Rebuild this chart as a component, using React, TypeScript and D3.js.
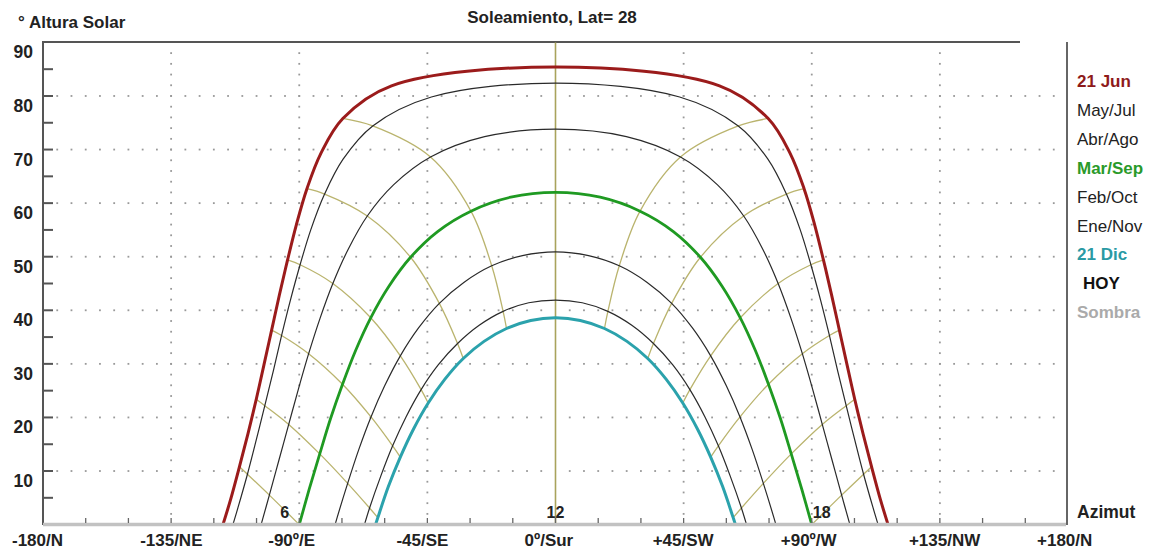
import * as d3 from "d3";

// Sun path, Lat 28. Afternoon half of each day, every 30 min from solar noon
// (azimuth from south, degrees; altitude, degrees). Morning is the mirror.
const junAz = [0, 57.6, 74.7, 82.4, 87.3, 91.0, 94.1, 97.0, 99.7, 102.4, 105.1, 108.0, 111.0, 114.1];
const junAlt = [85.4, 81.9, 75.8, 69.3, 62.7, 56.0, 49.4, 42.8, 36.3, 29.8, 23.4, 17.0, 10.8, 4.7];
const junSet = 116.8;

const mayAz = [0, 43.6, 64.2, 74.6, 81.1, 85.9, 89.7, 93.1, 96.2, 99.1, 102.1, 105.1, 108.2, 111.5];
const mayAlt = [82.4, 79.8, 74.4, 68.2, 61.7, 55.1, 48.5, 41.9, 35.3, 28.7, 22.2, 15.8, 9.4, 3.2];
const maySet = 113.3;

const abrAz = [0, 24.9, 43.9, 56.9, 66.1, 72.8, 78.2, 82.7, 86.7, 90.3, 93.7, 97.1, 100.5];
const abrAlt = [73.8, 72.4, 68.6, 63.4, 57.6, 51.4, 45.0, 38.5, 31.9, 25.3, 18.7, 12.1, 5.5];
const abrSet = 103.4;

const marAz = [0, 15.7, 29.7, 41.4, 50.9, 58.5, 64.9, 70.2, 74.8, 79.0, 82.8, 86.5, 90.0];
const marAlt = [62.0, 61.1, 58.5, 54.7, 49.9, 44.5, 38.6, 32.5, 26.2, 19.8, 13.2, 6.6, 0];
const marSet = 90;

const febAz = [0, 11.6, 22.4, 32.2, 40.8, 48.1, 54.5, 60.0, 64.8, 69.1, 73.0, 76.7];
const febAlt = [50.9, 50.2, 48.3, 45.2, 41.3, 36.7, 31.5, 25.9, 20.1, 14.0, 7.7, 1.3];
const febSet = 77.4;

const eneAz = [0, 9.4, 18.4, 26.8, 34.4, 41.2, 47.2, 52.5, 57.2, 61.4, 65.3];
const eneAlt = [41.9, 41.4, 39.8, 37.2, 33.8, 29.8, 25.2, 20.1, 14.7, 9.0, 3.1];
const eneSet = 67.1;

const dicAz = [0, 8.7, 17.2, 25.1, 32.4, 38.9, 44.7, 49.9, 54.5, 58.7, 62.4];
const dicAlt = [38.6, 38.1, 36.6, 34.2, 31.0, 27.1, 22.7, 17.8, 12.6, 7.1, 1.3];
const dicSet = 63.2;

const azTicks = [-180, -135, -90, -45, 0, 45, 90, 135, 180];
const azLabels = ["-180/N", "-135/NE", "-90º/E", "-45/SE", "0º/Sur", "+45/SW", "+90º/W", "+135/NW", "+180/N"];
const altTicks = [10, 20, 30, 40, 50, 60, 70, 80, 90];

const legendLabels = ["21 Jun", "May/Jul", "Abr/Ago", "Mar/Sep", "Feb/Oct", "Ene/Nov", "21 Dic", "HOY", "Sombra"];
const legendColors = ["#8e1a1a", "#222", "#222", "#2a9a2a", "#222", "#222", "#2a9aa4", "#111", "#aaa"];
const legendBold = [true, false, false, true, false, false, true, true, true];

type Pt = [number, number];

const days = [
  { az: junAz, alt: junAlt, set: junSet, color: "#9b1b1b", width: 3 },
  { az: mayAz, alt: mayAlt, set: maySet, color: "#2a2a2a", width: 1.2 },
  { az: abrAz, alt: abrAlt, set: abrSet, color: "#2a2a2a", width: 1.2 },
  { az: marAz, alt: marAlt, set: marSet, color: "#1f9a22", width: 2.8 },
  { az: febAz, alt: febAlt, set: febSet, color: "#2a2a2a", width: 1.2 },
  { az: eneAz, alt: eneAlt, set: eneSet, color: "#2a2a2a", width: 1.2 },
  { az: dicAz, alt: dicAlt, set: dicSet, color: "#2ba2ac", width: 3 },
];

const font = "'Liberation Sans', Arial, sans-serif";

export default function App() {
  const x = d3.scaleLinear().domain([-180, 180]).range([43, 1068]);
  const y = d3.scaleLinear().domain([0, 90]).range([524.6, 42.4]);
  const line = d3
    .line<Pt>()
    .x((d) => x(d[0]))
    .y((d) => y(d[1]))
    .curve(d3.curveCatmullRom.alpha(0.5));

  const fullDay = (d: (typeof days)[number]): Pt[] => {
    const pm: Pt[] = d.az.map((a, i) => [a, d.alt[i]] as Pt);
    if (pm[pm.length - 1][1] > 0) pm.push([d.set, 0]);
    const am: Pt[] = pm.slice(1).reverse().map(([a, h]) => [-a, h] as Pt);
    return [...am, ...pm];
  };

  // hour lines: same solar hour across the days (index 2k = k hours from noon)
  const hourLines: Pt[][] = [];
  for (let k = 1; k <= 6; k++) {
    const idx = 2 * k;
    const pts: Pt[] = days.filter((d) => idx < d.az.length).map((d) => [d.az[idx], d.alt[idx]] as Pt);
    if (pts.length > 1) {
      hourLines.push(pts);
      hourLines.push(pts.map(([a, h]) => [-a, h] as Pt));
    }
  }

  const hDots: Pt[] = [];
  d3.range(10, 90, 10).forEach((h) =>
    d3.range(-175, 180, 5).forEach((a) => {
      if (a !== 0) hDots.push([a, h]);
    })
  );
  const vDots: Pt[] = [];
  [-135, -90, -45, 45, 90, 135].forEach((a) =>
    d3.range(2, 90, 2).forEach((h) => vDots.push([a, h]))
  );

  return (
    <svg
      width={1152}
      height={552}
      style={{ position: "absolute", left: 0, top: 0, background: "#fff" }}
      fontFamily={font}
    >
      <rect width={1152} height={552} fill="#fff" />

      {/* dotted grid */}
      {hDots.map((d, i) => (
        <rect key={"h" + i} x={x(d[0]) - 0.9} y={y(d[1]) - 0.9} width={1.8} height={1.8} fill="#999" />
      ))}
      {vDots.map((d, i) => (
        <rect key={"v" + i} x={x(d[0]) - 0.9} y={y(d[1]) - 0.9} width={1.8} height={1.8} fill="#999" />
      ))}

      {/* frame */}
      <line x1={x(-180)} x2={x(-180)} y1={41} y2={525} stroke="#555" strokeWidth={2} />
      <line x1={x(-180)} x2={1020} y1={y(90) - 0.5} y2={y(90) - 0.5} stroke="#555" strokeWidth={2} />
      <line x1={x(180) - 1} x2={x(180) - 1} y1={42} y2={525} stroke="#666" strokeWidth={2} />

      {d3.range(5, 90, 5).map((h) => (
        <line key={"yt" + h} x1={x(-180)} x2={x(-180) + 10} y1={y(h)} y2={y(h)} stroke="#555" strokeWidth={2} />
      ))}
      {altTicks.map((h) => (
        <text key={"yl" + h} x={33} y={y(h) + 16} textAnchor="end" fontSize={17.5} fontWeight="bold" fill="#222">
          {h}
        </text>
      ))}

      {/* hour lines */}
      <line x1={x(0)} x2={x(0)} y1={y(0)} y2={y(90)} stroke="#a9a35c" strokeWidth={1.6} />
      {hourLines.map((pts, i) => (
        <path key={"hl" + i} d={line(pts) ?? ""} fill="none" stroke="#bab46e" strokeWidth={1.3} />
      ))}

      {/* day curves */}
      {days.map((d, i) => (
        <path key={"d" + i} d={line(fullDay(d)) ?? ""} fill="none" stroke={d.color} strokeWidth={d.width} />
      ))}

      {/* bottom axis */}
      <line x1={x(-180)} x2={x(180) - 2} y1={524.5} y2={524.5} stroke="#c2c2c2" strokeWidth={3.5} />
      {d3.range(-165, 180, 15).map((a) => (
        <line key={"xt" + a} x1={x(a)} x2={x(a)} y1={518} y2={523} stroke="#666" strokeWidth={1.3} />
      ))}
      {azTicks.map((a, i) => (
        <text key={"xl" + a} x={x(a) - 31} y={546} fontSize={17} fontWeight="bold" fill="#222">
          {azLabels[i]}
        </text>
      ))}

      {/* hour labels */}
      <text x={x(-90) - 10} y={518} textAnchor="end" fontSize={16} fontWeight="bold" fill="#222">6</text>
      <text x={x(0)} y={518} textAnchor="middle" fontSize={16} fontWeight="bold" fill="#222">12</text>
      <text x={x(90) + 1} y={518} fontSize={16} fontWeight="bold" fill="#222">18</text>

      {/* titles */}
      <text x={552} y={23} textAnchor="middle" fontSize={17} fontWeight="bold" fill="#222">
        Soleamiento, Lat= 28
      </text>
      <text x={18} y={28} fontSize={17} fontWeight="bold" fill="#222">
        ° Altura Solar
      </text>
      <text x={1077} y={518} fontSize={17.5} fontWeight="bold" fill="#222">
        Azimut
      </text>

      {/* legend */}
      {legendLabels.map((l, i) => (
        <text
          key={l}
          x={l === "HOY" ? 1083 : 1077}
          y={87 + i * 28.9}
          fontSize={17}
          fontWeight={legendBold[i] ? "bold" : "normal"}
          fill={legendColors[i]}
        >
          {l}
        </text>
      ))}
    </svg>
  );
}
